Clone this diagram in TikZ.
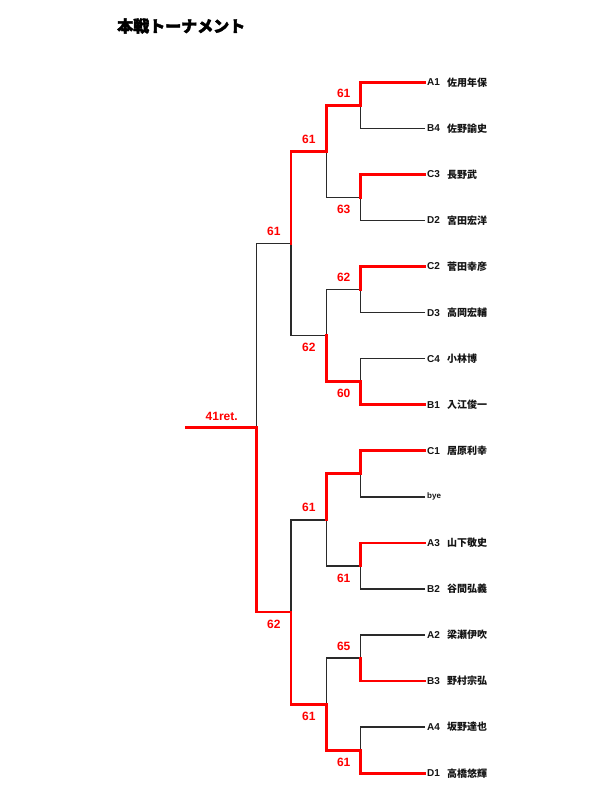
\documentclass[tikz,border=0pt]{standalone}
\usepackage{fontspec}
\setmainfont{Liberation Sans}
\newfontfamily\jpfont{Noto Sans CJK JP}
\newfontfamily\titlefont{Noto Sans CJK JP}[BoldFeatures={FakeBold=2.5}]
\definecolor{winred}{HTML}{FF0000}
\definecolor{loseline}{HTML}{2A2A2A}
\definecolor{txtcol}{HTML}{141414}
\tikzset{
  lose/.style={draw=loseline, line width=1.5pt},
  win/.style={draw=winred, line width=2.8pt, line cap=rect},
  seedlbl/.style={anchor=west, inner sep=0pt, text=txtcol, font=\bfseries\fontsize{10}{10}\selectfont},
  namelbl/.style={anchor=west, inner sep=0pt, text=txtcol, font=\jpfont\bfseries\fontsize{10}{10}\selectfont},
  byelbl/.style={anchor=west, inner sep=0pt, text=txtcol, font=\bfseries\fontsize{8}{8}\selectfont},
  score/.style={inner sep=0pt, text=winred, font=\bfseries\fontsize{12}{12}\selectfont},
  titlelbl/.style={anchor=west, inner sep=0pt, font=\titlefont\bfseries\fontsize{16}{16}\selectfont},
}
\begin{document}
\begin{tikzpicture}[x=1pt,y=-1pt]
\useasboundingbox (0,0) rectangle (600,800);
\fill[white] (0,0) rectangle (600,800);

% title
\node[titlelbl] (title) at (117,26) {本戦トーナメント};

% player line ends
\foreach \i/\y in {0/82.3,1/128.36,2/174.42,3/220.48,4/266.54,5/312.6,6/358.66,7/404.72,
                   8/450.78,9/496.84,10/542.9,11/588.96,12/635.02,13/681.08,14/727.14,15/773.2}
  \coordinate (p\i) at (425,\y);

% round 1 match points
\coordinate (a1) at (360.7,105.33);
\coordinate (a2) at (360.7,197.45);
\coordinate (a3) at (360.7,289.57);
\coordinate (a4) at (360.7,381.69);
\coordinate (a5) at (360.7,473.81);
\coordinate (a6) at (360.7,565.93);
\coordinate (a7) at (360.7,658.05);
\coordinate (a8) at (360.7,750.17);
% round 2
\coordinate (b1) at (326.7,151.39);
\coordinate (b2) at (326.7,335.63);
\coordinate (b3) at (326.7,519.87);
\coordinate (b4) at (326.7,704.11);
% round 3
\coordinate (c1) at (291,243.51);
\coordinate (c2) at (291,611.99);
% final
\coordinate (f) at (256.7,427.75);
\coordinate (f0) at (186.7,427.75);

% losers
\draw[lose] (p1) -| (a1);
\draw[lose] (p3) -| (a2);
\draw[lose] (p5) -| (a3);
\draw[lose] (p6) -| (a4);
\draw[lose] (p9) -| (a5);
\draw[lose] (p11) -| (a6);
\draw[lose] (p12) -| (a7);
\draw[lose] (p14) -| (a8);
\draw[lose] (a2) -| (b1);
\draw[lose] (a3) -| (b2);
\draw[lose] (a6) -| (b3);
\draw[lose] (a7) -| (b4);
\draw[lose] (b2) -| (c1);
\draw[lose] (b3) -| (c2);
\draw[lose] (c1) -| (f);

% winners
\draw[win] (p0) -| (a1);
\draw[win] (p2) -| (a2);
\draw[win] (p4) -| (a3);
\draw[win] (p7) -| (a4);
\draw[win] (p8) -| (a5);
\draw[win] (p10) -| (a6);
\draw[win] (p13) -| (a7);
\draw[win] (p15) -| (a8);
\draw[win] (a1) -| (b1);
\draw[win] (a4) -| (b2);
\draw[win] (a5) -| (b3);
\draw[win] (a8) -| (b4);
\draw[win] (b1) -| (c1);
\draw[win] (b4) -| (c2);
\draw[win] (c2) -| (f);
\draw[win] (f) -- (f0);

% scores
\node[score] (s1) at (343.7,93.3) {61};
\node[score] (s2) at (343.7,209.6) {63};
\node[score] (s3) at (343.7,277.5) {62};
\node[score] (s4) at (343.7,393.8) {60};
\node[score] (s6) at (343.7,578.0) {61};
\node[score] (s7) at (343.7,646.0) {65};
\node[score] (s8) at (343.7,762.3) {61};
\node[score] (t1) at (308.8,139.3) {61};
\node[score] (t2) at (308.8,347.7) {62};
\node[score] (t3) at (308.8,507.8) {61};
\node[score] (t4) at (308.8,716.2) {61};
\node[score] (u1) at (273.8,231.5) {61};
\node[score] (u2) at (273.8,624.0) {62};
\node[score] (fin) at (221.7,416.0) {41ret.};

% seeds and names
\foreach \i/\s/\n in {0/A1/佐用年保,1/B4/佐野諭史,2/C3/長野武,3/D2/宮田宏洋,
                      4/C2/菅田幸彦,5/D3/高岡宏輔,6/C4/小林博,7/B1/入江俊一,
                      8/C1/居原利幸,10/A3/山下敬史,11/B2/谷間弘義,
                      12/A2/梁瀬伊吹,13/B3/野村宗弘,14/A4/坂野達也,15/D1/高橋悠輝}{
  \node[seedlbl] (sd\i) at ([xshift=2pt]p\i) {\s};
  \node[namelbl] (nm\i) at ([xshift=22pt]p\i) {\n};
}
\node[byelbl] (sd9) at ([xshift=2pt]p9) {bye};
\end{tikzpicture}
\end{document}
